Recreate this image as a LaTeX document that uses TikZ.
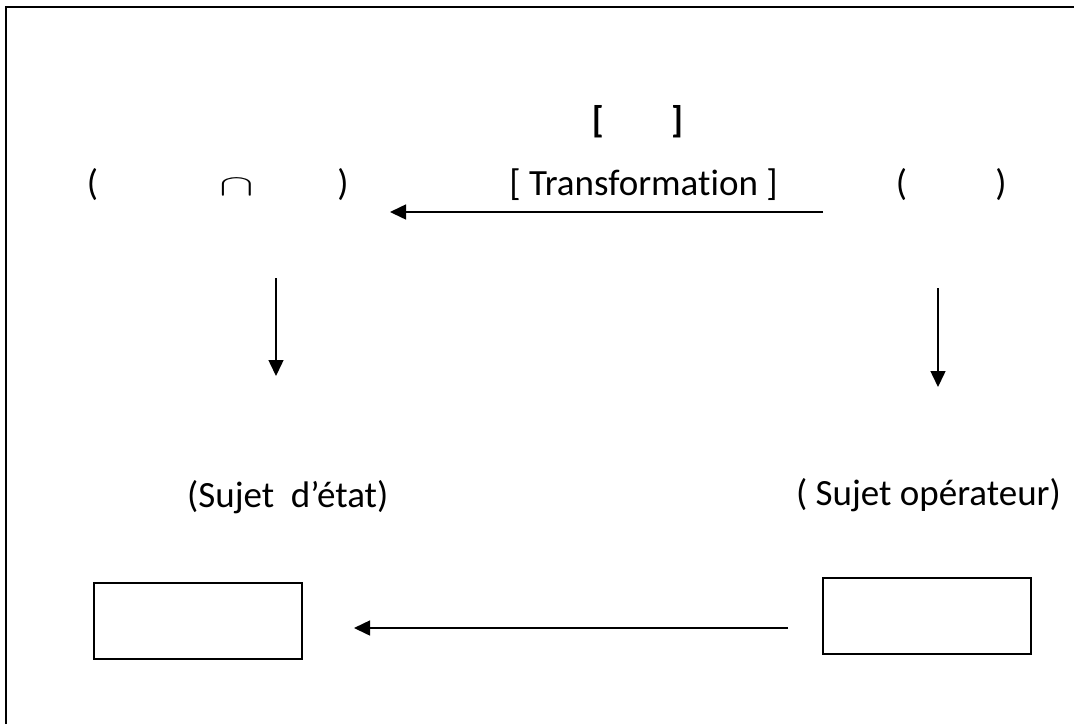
\documentclass[tikz,border=0pt]{standalone}
\usepackage{graphicx}
\usepackage{fontspec}
\setmainfont{Carlito}[Ligatures={NoCommon}]
\usetikzlibrary{arrows.meta}
\tikzset{
	flow/.style={-{Triangle[length=16pt,width=15pt]}, line width=1.5pt},
	txt/.style={anchor=base, inner sep=0pt, font=\fontsize{37}{44}\selectfont},
	emptybox/.style={draw, line width=2pt, minimum width=208pt, minimum height=76pt, inner sep=0pt}}

\begin{document}
\begin{tikzpicture}[x=1pt, y=-1pt]
			\useasboundingbox (0,0) rectangle (1074,724);
			% frame
			\draw[line width=2.4pt] (6,724) |- (1074,7);
			
			% top row
			\node [txt, font=\fontsize{37}{44}\selectfont\bfseries] (Lb) at (598,132) {[};
			\node [txt, font=\fontsize{37}{44}\selectfont\bfseries] (Rb) at (677,132) {]};
			
			\node [txt] (A1) at (92.5,195) {(};
			\node [txt, font=\fontsize{10}{12}\selectfont] (Cap) at (237,195) {\scalebox{5.2}[3.0]{$\cap$}};
			\node [txt] (A2) at (343,195) {)};
			\node [txt] (T) at (643.5,195) {[ Transformation ]};
			\node [txt] (B1) at (901.5,195) {(};
			\node [txt] (B2) at (1001,195) {)};
			
			% subjects
			\node [txt, anchor=base west] (C) at (187,507) {(Sujet~ d’état)};
			\node [txt, anchor=base east] (D) at (1061,505) {( Sujet opérateur)};
			
			% boxes
			\node [emptybox] (stateBox) at (198,621) {};
			\node [emptybox] (opBox) at (926.5,616) {};
			
			% arrows
			\coordinate (t1) at (823,212);
			\coordinate (t2) at (390,212);
			\coordinate (l1) at (276,278);
			\coordinate (l2) at (276,376);
			\coordinate (r1) at (938,288);
			\coordinate (r2) at (938,387);
			\coordinate (b1) at (788,628);
			\coordinate (b2) at (354,628);
			\draw[flow] (t1) -- (t2);
			\draw[flow] (l1) -- (l2);
			\draw[flow] (r1) -- (r2);
			\draw[flow] (b1) -- (b2);
		\end{tikzpicture}
\end{document}
